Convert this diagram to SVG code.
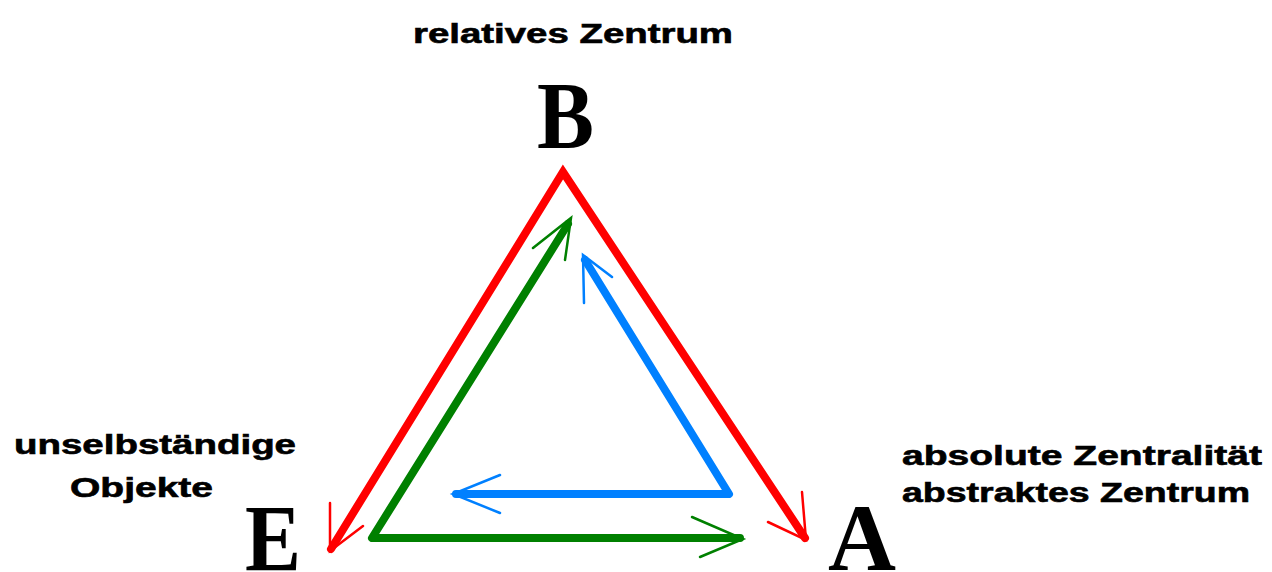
<svg xmlns="http://www.w3.org/2000/svg" width="1272" height="572" viewBox="0 0 1272 572">
<style>
.lbl{font-family:"Liberation Sans",Arial,sans-serif;font-weight:bold;font-size:27px;fill:#000;stroke:#000;stroke-width:0.6}
.big{font-family:"Liberation Serif","Times New Roman",serif;font-weight:bold;font-size:95px;fill:#000}
.main{fill:none;stroke-width:8;stroke-linejoin:round;stroke-linecap:round}
.head{fill:none;stroke-width:2.5;stroke-linejoin:miter;stroke-linecap:round}
.red{stroke:#ff0000}.green{stroke:#008000}.blue{stroke:#0080ff}
</style>
<rect width="1272" height="572" fill="#fff"/>
<g id="connectors">
<polyline class="main red" style="stroke-linejoin:miter" points="331,549 563,172 805,538"/>
<polyline class="head red" points="330,503 330,551 363,526"/>
<polyline class="head red" points="802,492 806,540 768,522"/>
<polyline class="main green" points="568,224 372,538 740,538"/>
<polyline class="head green" points="533,248 571,218 565,260"/>
<polyline class="head green" points="692,517 743,539 700,557"/>
<polyline class="main blue" points="585,260 729,494 456,494"/>
<polyline class="head blue" points="584,303 583,255 612,277"/>
<polyline class="head blue" points="500,475 453,494 500,513"/>
</g>
<g id="node-B">
<text class="lbl" x="413" y="43" textLength="320" lengthAdjust="spacingAndGlyphs">relatives Zentrum</text>
<text class="big" x="537" y="148" textLength="57" lengthAdjust="spacingAndGlyphs">B</text>
</g>
<g id="node-E">
<text class="lbl" x="14" y="454" textLength="282" lengthAdjust="spacingAndGlyphs">unselbständige</text>
<text class="lbl" x="70" y="497" textLength="143" lengthAdjust="spacingAndGlyphs">Objekte</text>
<text class="big" x="245" y="571" textLength="56" lengthAdjust="spacingAndGlyphs">E</text>
</g>
<g id="node-A">
<text class="lbl" x="902" y="465" textLength="360" lengthAdjust="spacingAndGlyphs">absolute Zentralität</text>
<text class="lbl" x="902" y="502" textLength="348" lengthAdjust="spacingAndGlyphs">abstraktes Zentrum</text>
<text class="big" x="828" y="570" textLength="68" lengthAdjust="spacingAndGlyphs">A</text>
</g>
</svg>
